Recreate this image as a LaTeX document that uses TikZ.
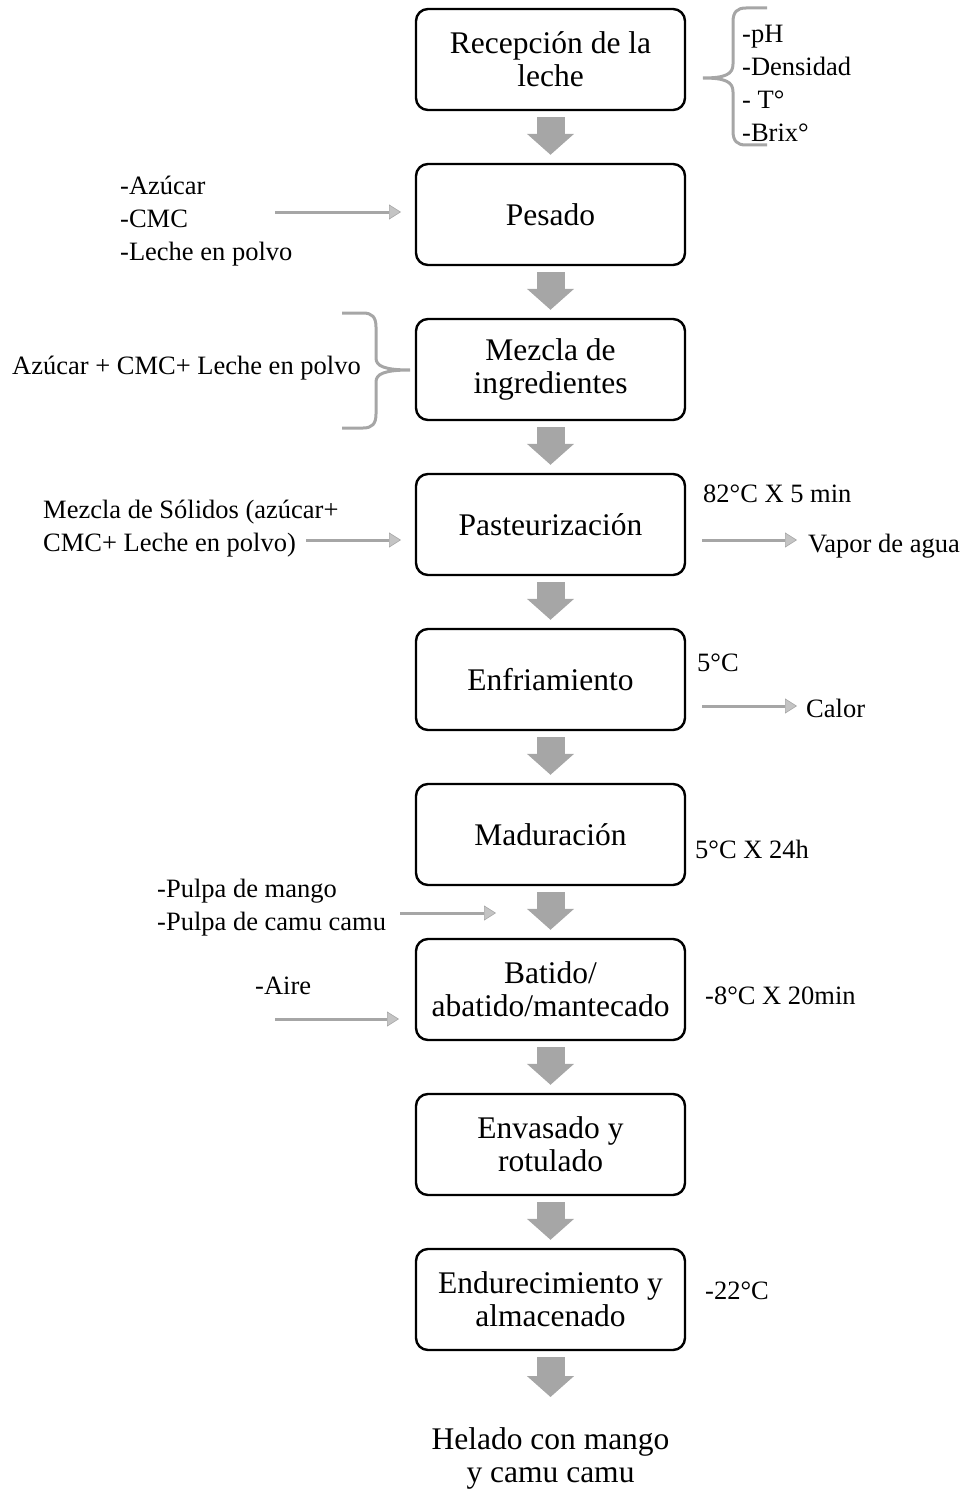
\documentclass[tikz,border=0pt]{standalone}
\usepackage{fontspec}
\setmainfont{Liberation Serif}
\usetikzlibrary{arrows.meta,calc}
\definecolor{ag}{HTML}{A6A6A6}
\definecolor{agl}{HTML}{C4C4C4}
\begin{document}
\begin{tikzpicture}[x=1pt,y=-1pt,
 stepbox/.style={draw=black,line width=2.4pt,rounded corners=12pt,minimum width=269pt,minimum height=101pt,inner sep=0pt,align=center,font=\fontsize{31.5}{33}\selectfont},
 side/.style={inner sep=0pt,align=left,anchor=west,font=\fontsize{26.5}{33}\selectfont},
 flow/.style={draw=ag,line width=28pt,-{Triangle[width=46pt,length=21pt]},shorten <=6pt,shorten >=8pt},
 thinarrow/.style={draw=ag,line width=3pt,-{Triangle[width=15pt,length=12pt,fill=agl,line width=0.6pt]}},
 brace/.style={draw=ag,line width=3pt}]
\useasboundingbox (0,0) rectangle (968,1490);

% boxes
\node[stepbox] (b1) at (550.5,59.5) {Recepción de la\\leche};
\node[stepbox] (b2) at (550.5,214.5) {Pesado};
\node[stepbox] (b3) at (550.5,369.5) {Mezcla de\\ingredientes};
\node[stepbox] (b4) at (550.5,524.5) {Pasteurización};
\node[stepbox] (b5) at (550.5,679.5) {Enfriamiento};
\node[stepbox] (b6) at (550.5,834.5) {Maduración};
\node[stepbox] (b7) at (550.5,989.5) {Batido/\\abatido/mantecado};
\node[stepbox] (b8) at (550.5,1144.5) {Envasado y\\rotulado};
\node[stepbox] (b9) at (550.5,1299.5) {Endurecimiento y\\almacenado};
\node[inner sep=0pt,align=center,font=\fontsize{31.5}{33}\selectfont] (fin) at (550.5,1458) {Helado con mango\\y camu camu};

% block arrows
\draw[flow] (b1) -- (b2);
\draw[flow] (b2) -- (b3);
\draw[flow] (b3) -- (b4);
\draw[flow] (b4) -- (b5);
\draw[flow] (b5) -- (b6);
\draw[flow] (b6) -- (b7);
\draw[flow] (b7) -- (b8);
\draw[flow] (b8) -- (b9);
\coordinate (finTop) at (550.5,1405);
\draw[flow] (b9) -- (finTop);

% side texts
\node[side] (t1) at (742,83) {-pH\\-Densidad\\- T°\\-Brix°};
\node[side] (t2) at (120,221) {-Azúcar\\-CMC\\-Leche en polvo};
\node[side] (t3) at (12,368) {Azúcar + CMC+ Leche en polvo};
\node[side] (t4) at (43,529) {Mezcla de Sólidos (azúcar+\\CMC+ Leche en polvo)};
\node[side] (t5) at (703,494) {82°C X 5 min};
\node[side] (t6) at (808,546) {Vapor de agua};
\node[side] (t7) at (697,663) {5°C};
\node[side] (t8) at (806,708) {Calor};
\node[side] (t9) at (695,849) {5°C X 24h};
\node[side] (t10) at (157,907.5) {-Pulpa de mango\\-Pulpa de camu camu};
\node[side] (t11) at (255,986) {-Aire};
\node[side] (t12) at (705,996) {-8°C X 20min};
\node[side] (t13) at (705,1291) {-22°C};

% thin arrows
\coordinate (a1s) at (275,212); \coordinate (a1e) at (401,212);
\coordinate (a2s) at (306,540); \coordinate (a2e) at (401,540);
\coordinate (a3s) at (702,540); \coordinate (a3e) at (797,540);
\coordinate (a4s) at (702,706); \coordinate (a4e) at (797,706);
\coordinate (a5s) at (400,913); \coordinate (a5e) at (496,913);
\coordinate (a6s) at (275,1019); \coordinate (a6e) at (399,1019);
\draw[thinarrow] (a1s) -- (a1e);
\draw[thinarrow] (a2s) -- (a2e);
\draw[thinarrow] (a3s) -- (a3e);
\draw[thinarrow] (a4s) -- (a4e);
\draw[thinarrow] (a5s) -- (a5e);
\draw[thinarrow] (a6s) -- (a6e);

% braces
\draw[brace] (767,8) -- (746,8) .. controls (737,8) and (733,12) .. (733,22) -- (733,64)
  .. controls (733,74) and (726,78) .. (703,78)
  .. controls (726,78) and (733,82) .. (733,92) -- (733,131)
  .. controls (733,141) and (737,145) .. (746,145) -- (767,145);
\draw[brace] (342,313) -- (363,313) .. controls (372,313) and (376,317) .. (376,327) -- (376,358)
  .. controls (376,366) and (384,370) .. (410,370)
  .. controls (384,370) and (376,374) .. (376,382) -- (376,414)
  .. controls (376,424) and (372,428) .. (363,428) -- (342,428);
\end{tikzpicture}
\end{document}
